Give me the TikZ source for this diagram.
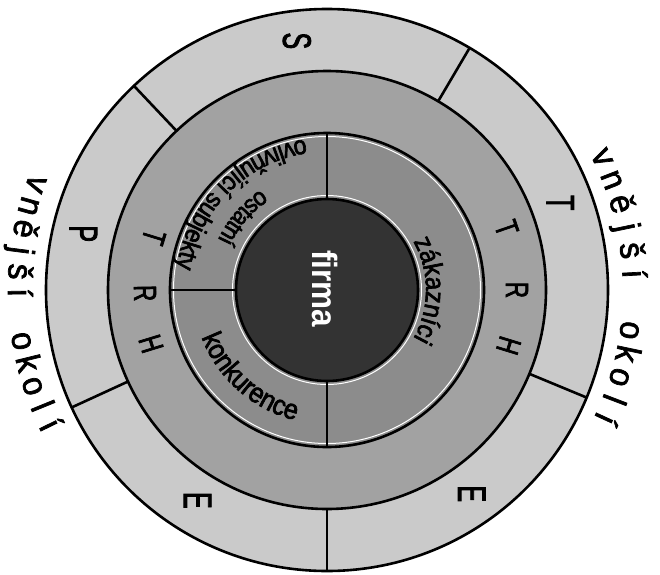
\documentclass[tikz,border=0pt]{standalone}
\usepackage{fontspec}
\setmainfont{Liberation Sans}
\newfontfamily\ringfont[FakeStretch=0.62,FakeBold=2]{Liberation Sans}
\newfontfamily\trhfont[FakeStretch=0.7,FakeBold=2]{Liberation Sans}
\newfontfamily\outfont[FakeStretch=0.95,FakeBold=2]{Liberation Sans}
\newfontfamily\labfont[FakeStretch=0.9,FakeBold=2.5]{Liberation Sans}
\newfontfamily\firmfont[FakeStretch=0.9]{Liberation Sans}
\usetikzlibrary{decorations.text}
\definecolor{ringA}{HTML}{CACACA}
\definecolor{ringB}{HTML}{A2A2A2}
\definecolor{ringC}{HTML}{8C8C8C}
\definecolor{coreC}{HTML}{333333}
\tikzset{
  border/.style={line width=2.6pt, draw=black},
  halo/.style={line width=1pt, draw=white},
  divider/.style={line width=2.6pt, draw=black},
  ringletter/.style={font=\ringfont\fontsize{40}{40}\selectfont, inner sep=0pt},
  trhletter/.style={font=\trhfont\fontsize{32}{32}\selectfont, inner sep=0pt},
  outletter/.style={font=\outfont\fontsize{34}{34}\selectfont, inner sep=0pt, anchor=base},
  labtext/.style 2 args={decorate, decoration={text along path, text align=center,
      text={|\labfont\fontsize{#1}{#1}\selectfont|#2}}},
}
\begin{document}
\begin{tikzpicture}[x=1pt,y=1pt]
\useasboundingbox (-327,-284) rectangle (333,290);
\fill[white] (-327,-284) rectangle (333,290);
% rings
\fill[ringA] (0,0) circle (281);
\fill[ringB] (0,0) circle (219);
\fill[ringC] (0,0) circle (157);
\fill[coreC] (0,0) circle (91);
\path[halo] (0,0) circle (153.5);
\path[halo] (0,0) circle (94.5);
\path[border] (0,0) circle (281);
\path[border] (0,0) circle (219);
\path[border] (0,0) circle (157);
\path[border] (0,0) circle (91);
% dividers of the outer ring
\foreach \a in {133.4,59.5,-22.5,204.7,-90}
  \path[divider] (\a:219) -- (\a:281);
% dividers of the third ring
\foreach \a in {90,180,270}
  \path[divider] (\a:91) -- (\a:157);
% outer ring letters
\node[ringletter, rotate=-90] (S) at (96.9:251) {S};
\node[ringletter, rotate=-90] (T) at (20.5:249) {T};
\node[ringletter, rotate=-90] (P) at (167:250) {P};
\node[ringletter, rotate=-90] (E1) at (238.4:247) {E};
\node[ringletter, rotate=-90] (E2) at (-54.6:250) {E};
% TRH ring letters
\node[trhletter, rotate=-71] (tr1) at (19:190) {T};
\node[trhletter, rotate=-90] (tr2) at (0:190) {R};
\node[trhletter, rotate=-107] (tr3) at (-17:190) {H};
\node[trhletter, rotate=253] (tl1) at (163:181) {T};
\node[trhletter, rotate=271] (tl2) at (181:182) {R};
\node[trhletter, rotate=287] (tl3) at (197:184) {H};
% outside text, right
\foreach \ch/\a [count=\i] in {v/25.7,n/21.1,ě/16.3,j/11.8,š/7.4,í/3.0,o/-7.6,k/-12.0,o/-16.6,l/-20.9,í/-24.8}
  \node[outletter, rotate=\a-90] (vr\i) at (\a:296) {\ch};
% outside text, left
\foreach \ch/\a [count=\i] in {v/160,n/164.3,ě/168.6,j/172.7,š/176.6,í/180.5,o/189.5,k/193.8,o/198.1,l/202.2,í/206}
  \node[outletter, rotate=\a+90] (vl\i) at (\a:319) {\ch};
% inner ring labels
\path[labtext={27}{zákazníci}] (34:99) arc[start angle=34, end angle=-34, radius=99];
\path[labtext={28}{konkurence}] (188:134) arc[start angle=188, end angle=269, radius=134];
\path[labtext={25}{ostatní}] (100:120) arc[start angle=100, end angle=179, radius=120];
\path[labtext={26}{ovlivňující subjekty}] (86:152) arc[start angle=86, end angle=184, radius=152];
% core
\node[font=\firmfont\bfseries\fontsize{35}{35}\selectfont, text=white, rotate=-90, inner sep=0pt] (firma) at (-2,1) {firma};
\end{tikzpicture}
\end{document}
